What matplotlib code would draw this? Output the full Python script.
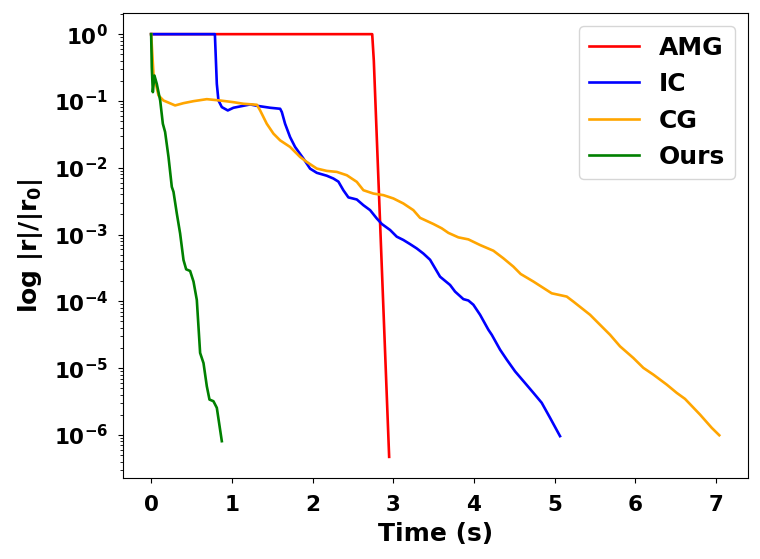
import numpy as np
import matplotlib
matplotlib.use("Agg")
import matplotlib.pyplot as plt

plt.rcParams["font.weight"] = "bold"
plt.rcParams["axes.labelweight"] = "bold"
plt.rcParams["mathtext.default"] = "regular"

# ------------------------------------------------------------
# data (residual vs. wall time)
# ------------------------------------------------------------
amg_t = [0.0, 2.74, 2.76, 2.95]
amg_r = [1.0, 1.0, 0.4, 4.7e-7]

ic_t = [0.0, 0.79, 0.814, 0.834, 0.876, 0.95, 1.02, 1.103, 1.227, 1.31,
        1.475, 1.599, 1.62, 1.66, 1.722, 1.784, 1.888, 1.97, 2.053, 2.177,
        2.259, 2.321, 2.383, 2.445, 2.549, 2.631, 2.714, 2.797, 2.859, 2.962,
        3.044, 3.126, 3.209, 3.292, 3.374, 3.457, 3.581, 3.705, 3.767, 3.87,
        3.932, 3.994, 4.077, 4.18, 4.222, 4.325, 4.408, 4.511, 4.634, 4.738,
        4.841, 4.944, 5.068]
ic_r = [1.0, 1.0, 1.80e-1, 1.02e-1, 8.09e-2, 7.21e-2, 7.91e-2, 8.28e-2, 8.87e-2, 8.47e-2,
        7.91e-2, 7.64e-2, 6.81e-2, 4.56e-2, 2.88e-2, 2.05e-2, 1.37e-2, 9.7e-3, 8.4e-3, 7.6e-3,
        6.9e-3, 6.2e-3, 4.6e-3, 3.6e-3, 3.35e-3, 2.75e-3, 2.32e-3, 1.74e-3, 1.44e-3, 1.17e-3,
        9.3e-4, 8.3e-4, 7.2e-4, 6.2e-4, 5.2e-4, 4.2e-4, 2.34e-4, 1.76e-4, 1.40e-4, 1.08e-4,
        1.03e-4, 8.9e-5, 6.3e-5, 3.76e-5, 3.16e-5, 1.89e-5, 1.34e-5, 8.95e-6, 6.0e-6, 4.27e-6,
        3.03e-6, 1.81e-6, 9.6e-7]

cg_t = [0.0, 0.029, 0.091, 0.153, 0.297, 0.401, 0.525, 0.69, 0.855, 1.02,
        1.144, 1.31, 1.351, 1.433, 1.516, 1.599, 1.722, 1.846, 1.929, 2.053,
        2.177, 2.301, 2.425, 2.549, 2.631, 2.755, 2.879, 3.003, 3.126, 3.25,
        3.333, 3.498, 3.602, 3.684, 3.808, 3.932, 4.077, 4.242, 4.366, 4.49,
        4.58, 4.738, 4.965, 5.151, 5.233, 5.44, 5.564, 5.688, 5.812, 5.977,
        6.101, 6.225, 6.39, 6.514, 6.617, 6.803, 6.948, 7.042]
cg_r = [1.0, 2.55e-1, 1.21e-1, 1.016e-1, 8.57e-2, 9.27e-2, 9.93e-2, 1.064e-1, 1.016e-1, 9.59e-2,
        9.08e-2, 8.77e-2, 7.21e-2, 4.56e-2, 3.24e-2, 2.57e-2, 2.05e-2, 1.452e-2, 1.222e-2, 9.73e-3,
        8.97e-3, 8.67e-3, 7.73e-3, 6.15e-3, 4.61e-3, 4.11e-3, 3.89e-3, 3.47e-3, 2.92e-3, 2.32e-3,
        1.78e-3, 1.44e-3, 1.24e-3, 1.06e-3, 9.08e-4, 8.47e-4, 6.97e-4, 5.73e-4, 4.41e-4, 3.31e-4,
        2.57e-4, 1.98e-4, 1.32e-4, 1.18e-4, 9.93e-5, 6.30e-5, 4.46e-5, 3.16e-5, 2.12e-5, 1.42e-5,
        1.01e-5, 8.0e-6, 5.68e-6, 4.27e-6, 3.47e-6, 2.02e-6, 1.28e-6, 9.9e-7]

ours_t = [0.0, 0.008, 0.021, 0.041, 0.07, 0.112, 0.145, 0.173, 0.215, 0.256,
          0.277, 0.318, 0.359, 0.401, 0.434, 0.483, 0.525, 0.566, 0.607, 0.649,
          0.69, 0.723, 0.772, 0.814, 0.876]
ours_r = [1.0, 3.2e-1, 1.355e-1, 2.40e-1, 1.80e-1, 1.016e-1, 4.56e-2, 3.43e-2, 1.452e-2, 5.18e-3,
          4.36e-3, 2.07e-3, 1.04e-3, 4.16e-4, 3.02e-4, 2.85e-4, 1.98e-4, 1.05e-4, 1.69e-5, 1.19e-5,
          5.36e-6, 3.39e-6, 3.20e-6, 2.55e-6, 8.07e-7]

# ------------------------------------------------------------
# plot
# ------------------------------------------------------------
fig = plt.figure(figsize=(7.6, 5.59), dpi=100)
ax = fig.add_axes([0.1615, 0.1449, 0.8223, 0.8318])

LW = 1.9
ax.plot(amg_t, amg_r, color="red", linewidth=LW, label="AMG")
ax.plot(ic_t, ic_r, color="blue", linewidth=LW, label="IC")
ax.plot(cg_t, cg_r, color="orange", linewidth=LW, label="CG")
ax.plot(ours_t, ours_r, color="green", linewidth=LW, label="Ours")

ax.set_yscale("log")
ax.set_xlabel("Time (s)", fontsize=18, fontweight="bold", labelpad=5)
ax.set_ylabel(r"log |r|/|r$_0$|", fontsize=18, fontweight="bold", labelpad=6)
ax.tick_params(axis="y", labelsize=15.5, pad=7)
ax.tick_params(axis="x", labelsize=15.5, pad=9)

ax.legend(loc="upper right", fontsize=18)

fig.savefig("out.png", dpi=100)
